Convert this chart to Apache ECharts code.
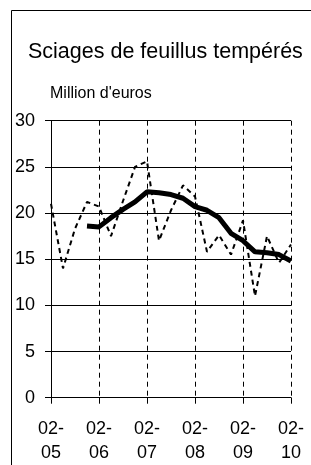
<!DOCTYPE html>
<html>
<head>
<meta charset="utf-8">
<script src="https://cdn.jsdelivr.net/npm/echarts@6/dist/echarts.min.js"></script>
<style>
  html, body { margin: 0; padding: 0; background: #fff; }
  #chart { width: 311px; height: 465px; }
</style>
</head>
<body>
<div id="chart"></div>
<script>
// trimestres 02-05 .. 02-10
var quarters = ['02-05', '05-05', '08-05', '11-05',
                '02-06', '05-06', '08-06', '11-06',
                '02-07', '05-07', '08-07', '11-07',
                '02-08', '05-08', '08-08', '11-08',
                '02-09', '05-09', '08-09', '11-09',
                '02-10'];
// valeur trimestrielle (pointillé)
var valeurs = [21, 14, 18.3, 21.2, 20.7, 17.5, 21.3, 25, 25.6, 17, 20.3,
               23, 21.8, 15.8, 17.6, 15.5, 19.2, 11, 17.5, 14.6, 16.6];
// moyenne mobile (trait épais)
var moyenne = [null, null, null, 18.6, 18.5, 19.5, 20.4, 21.2, 22.3, 22.2,
               22.0, 21.6, 20.7, 20.3, 19.5, 17.8, 17.0, 15.8, 15.7, 15.5, 14.8];
var yTicks = [0, 5, 10, 15, 20, 25, 30];

var chart = echarts.init(document.getElementById('chart'));
var police = 'Liberation Sans';

option = {
    animation: false,
    textStyle: { fontFamily: police },
    title: [{
        text: 'Sciages de feuillus tempérés',
        left: 28,
        top: 41,
        padding: 0,
        textStyle: { fontFamily: police, fontSize: 21.5, fontWeight: 'normal', color: '#000' }
    }, {
        text: "Million d'euros",
        left: 50,
        top: 86,
        padding: 0,
        textStyle: { fontFamily: police, fontSize: 16, fontWeight: 'normal', color: '#000' }
    }],
    // cadre
    graphic: [{
        type: 'rect',
        shape: { x: 11.5, y: 10.5, width: 400, height: 500 },
        style: { fill: 'none', stroke: '#000', lineWidth: 1 }
    }],
    grid: { left: 51, right: 20, top: 120.7, bottom: 67.3 },
    xAxis: {
        type: 'category',
        data: quarters,
        boundaryGap: false,
        axisLine: { lineStyle: { color: '#000', width: 1 } },
        axisTick: { interval: 3, length: 6, lineStyle: { color: '#000' } },
        axisLabel: {
            interval: 3,
            margin: 19,
            fontSize: 18,
            lineHeight: 24,
            color: '#000',
            fontFamily: police,
            formatter: function (v) { return v.replace('-', '-\n'); }
        },
        splitLine: {
            show: true,
            interval: 3,
            lineStyle: { color: '#000', width: 1, type: [5, 4] }
        }
    },
    yAxis: {
        type: 'value',
        min: yTicks[0],
        max: yTicks[yTicks.length - 1],
        interval: 5,
        axisLine: { show: true, lineStyle: { color: '#000', width: 1 } },
        axisTick: { show: true, length: 6, lineStyle: { color: '#000' } },
        axisLabel: { margin: 16, fontSize: 18, color: '#000', fontFamily: police },
        splitLine: { lineStyle: { color: '#000', width: 1 } }
    },
    series: [{
        type: 'line',
        data: valeurs,
        symbol: 'none',
        lineStyle: { color: '#000', width: 2, type: [5, 4] }
    }, {
        type: 'line',
        data: moyenne,
        symbol: 'none',
        lineStyle: { color: '#000', width: 5 }
    }]
};
chart.setOption(option);
</script>
</body>
</html>
